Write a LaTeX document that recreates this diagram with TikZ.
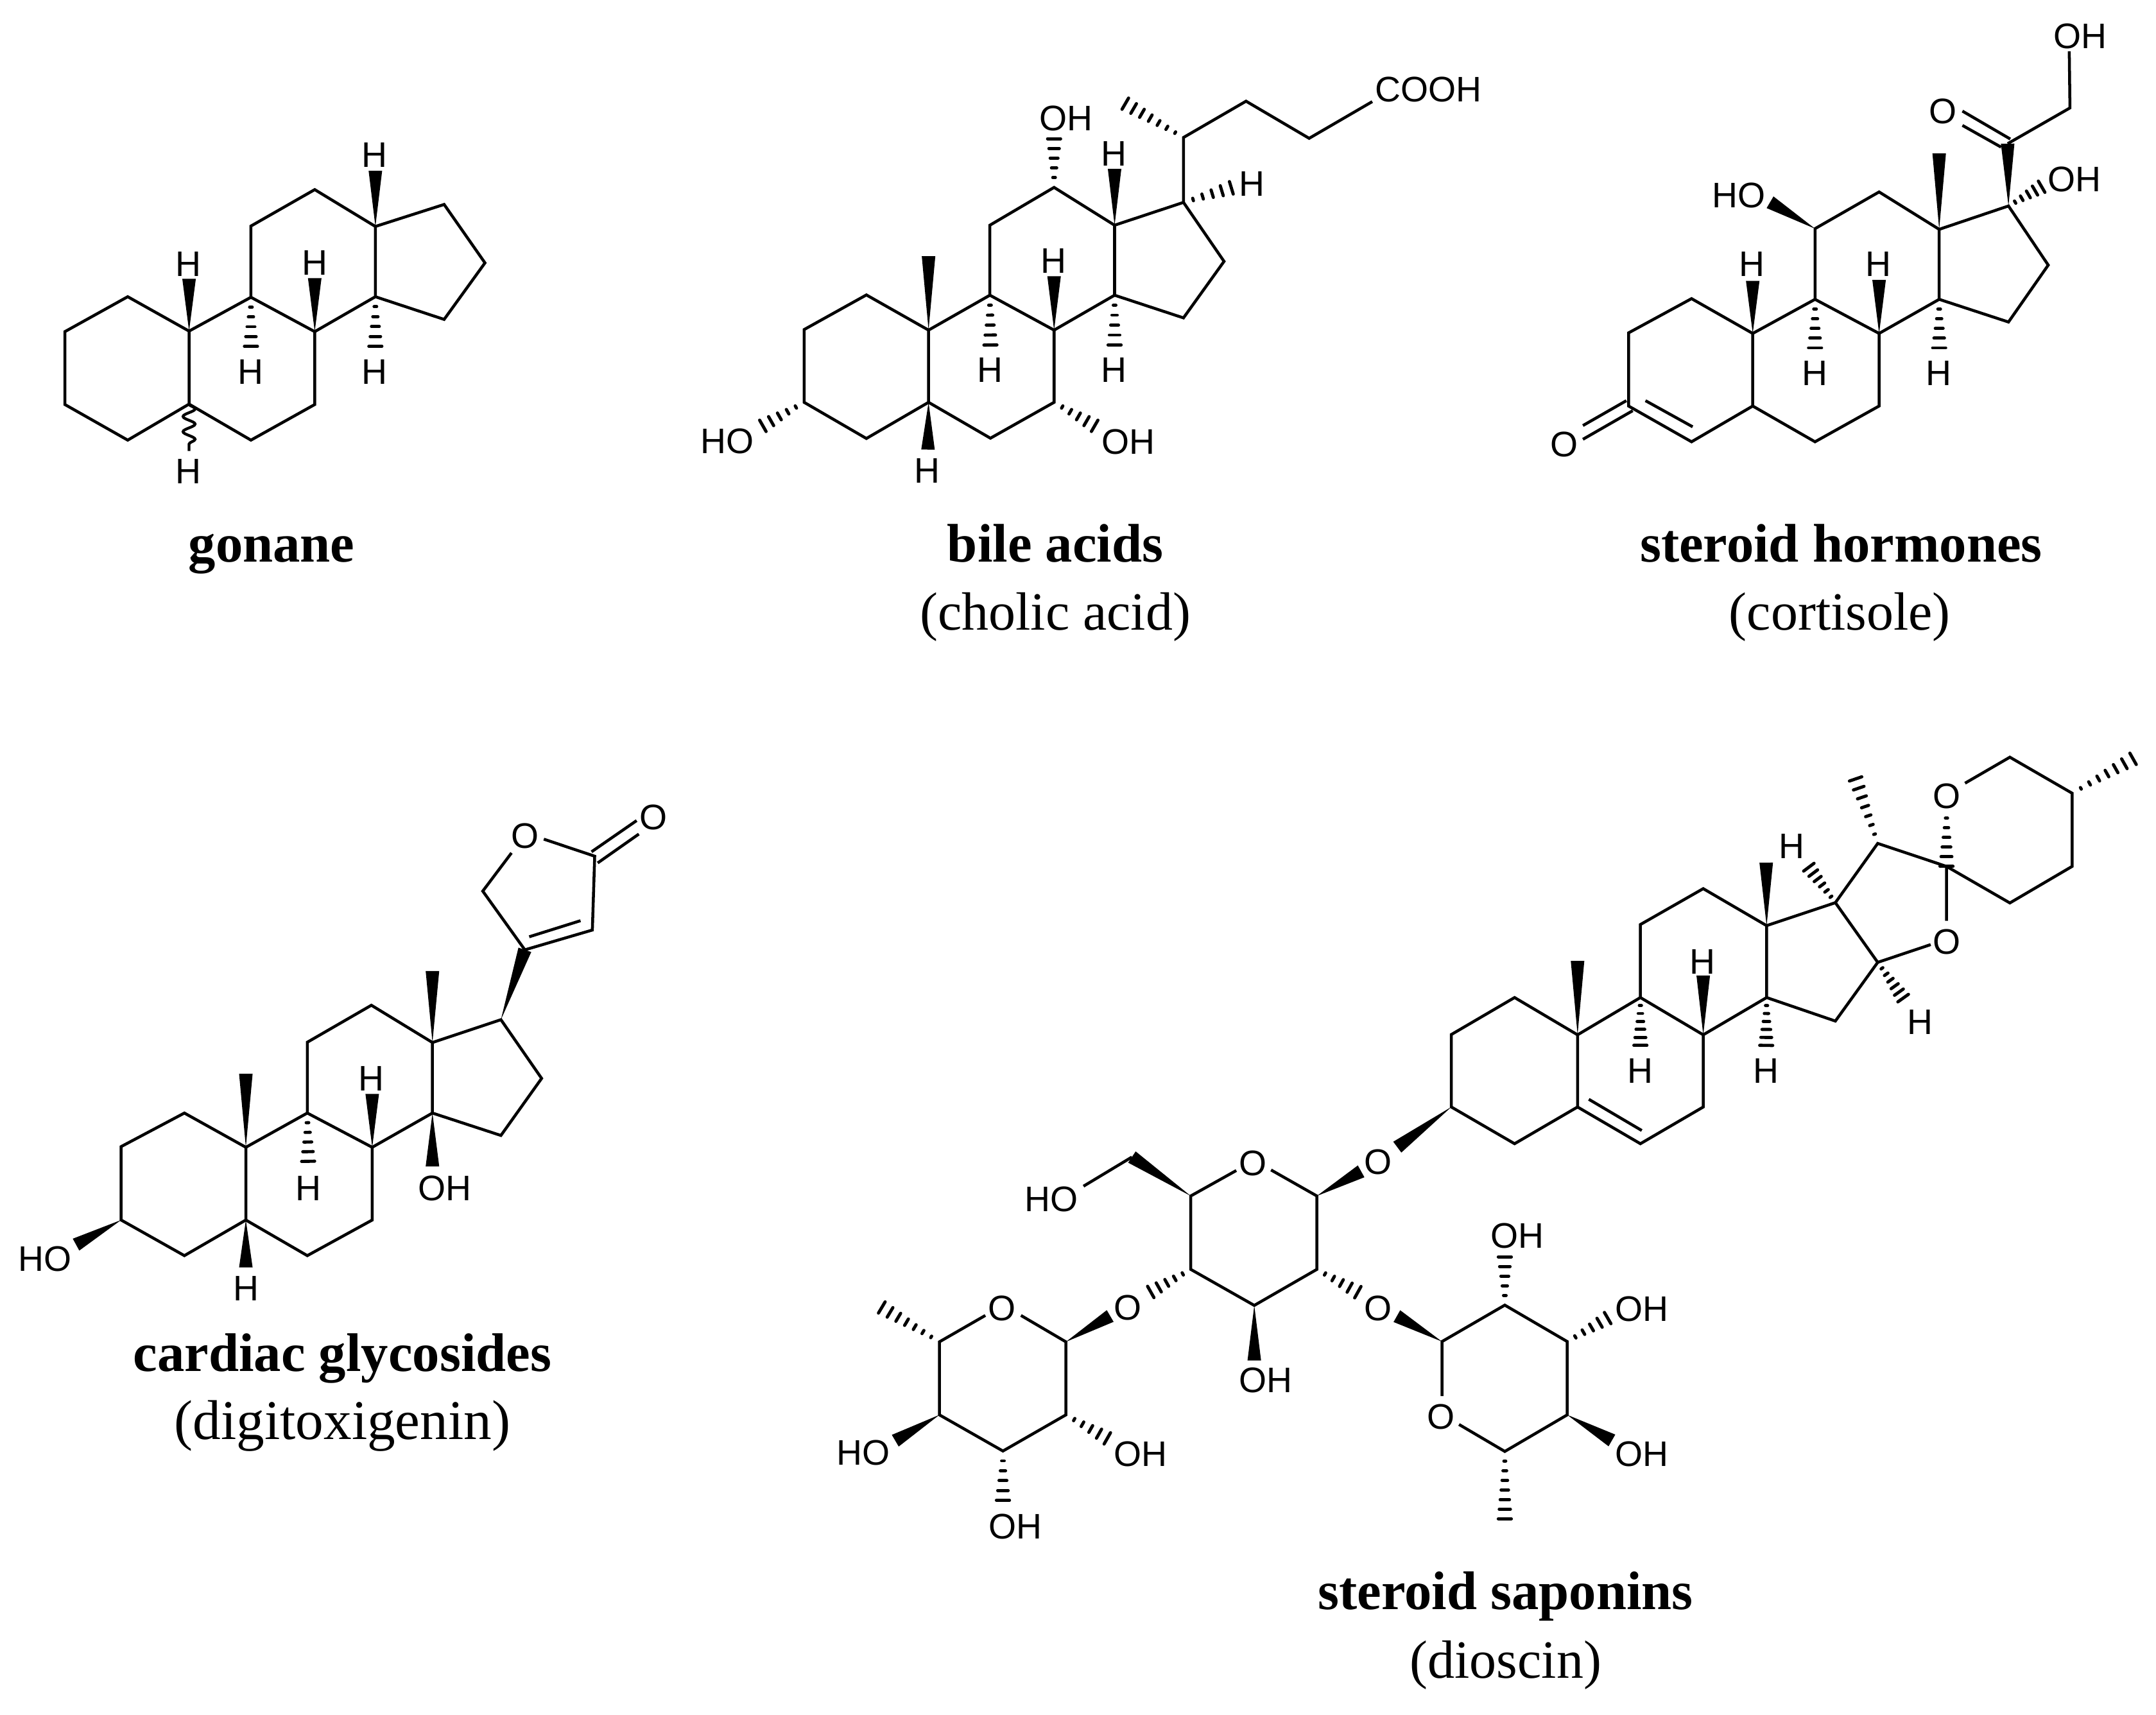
\documentclass[tikz,border=0pt]{standalone}
\usepackage{fontspec}
\setmainfont{Liberation Serif}
\setsansfont{Liberation Sans}
\usetikzlibrary{calc,decorations.pathmorphing}
\tikzset{
	atom/.style={font=\sffamily\fontsize{14.7}{17}\selectfont,inner sep=0pt},
	capbold/.style={font=\bfseries\fontsize{22.5}{26}\selectfont,inner sep=0pt,anchor=base},
	capplain/.style={font=\fontsize{22.3}{26}\selectfont,inner sep=0pt,anchor=base},
	hashline/.style={line width=1.3pt,line cap=round},
	wavy/.style={line width=1.15pt,decorate,decoration={snake,amplitude=2.5pt,segment length=6.3pt}}
}
\newcommand{\wedgebond}[2]{\fill (#1)--($(#2)!2.8pt!90:(#1)$)--($(#2)!2.8pt!-90:(#1)$)--cycle;}
\newcommand{\hashbond}[3]{\foreach \i in {1,...,#3}{
		\coordinate (hp) at ($(#1)!\i/#3!(#2)$);
		\draw[hashline] ($(hp)!\i/#3*2.7pt!90:(#1)$)--($(hp)!\i/#3*2.7pt!-90:(#1)$);}}
\begin{document}
\begin{tikzpicture}[x=0.02cm,y=-0.02cm,line width=1.2pt]
		\useasboundingbox (0,0) rectangle (1568,1247.3);
		% gonane
		\coordinate (g1) at (47.2,241.2); \coordinate (g2) at (92.9,215.8); \coordinate (g3) at (137.5,240.8);
		\coordinate (g4) at (137.5,293.9); \coordinate (g5) at (92.9,320.1); \coordinate (g6) at (47.2,294.2);
		\coordinate (g7) at (182.5,216.2); \coordinate (g8) at (228.9,241.2);%ring B
		\coordinate (g9) at (228.9,294.2); \coordinate (g10) at (182.5,320.1);
		\coordinate (g11) at (182.5,164.4); \coordinate (g12) at (228.9,137.9);%ring C
		\coordinate (g13) at (273,164.7); \coordinate (g14) at (273,215.8);
		\coordinate (g15) at (323,148.7); \coordinate (g16) at (352.7,191.2); \coordinate (g17) at (323,232.3);%ring D
		\coordinate (gw1) at (137.5,202.8); \coordinate (gw2) at (228.9,202.3); \coordinate (gw3) at (273,124.2);
		\coordinate (gh1) at (182.5,251.9); \coordinate (gh2) at (273,251.9); \coordinate (gs) at (137.5,328);
		\draw (g1)--(g2)--(g3)--(g4)--(g5)--(g6)--cycle;
		\draw (g3)--(g7)--(g8)--(g9)--(g10)--(g4);
		\draw (g7)--(g11)--(g12)--(g13)--(g14)--(g8);
		\draw (g13)--(g15)--(g16)--(g17)--(g14);
		\wedgebond{g3}{gw1} \wedgebond{g8}{gw2} \wedgebond{g13}{gw3}
		\hashbond{g7}{gh1}{5} \hashbond{g14}{gh2}{5}
		\draw[wavy] (g4)--(gs);
		\node[atom] (gH1) at (136.8,192) {H};
		\node[atom] (gH2) at (228.9,191.2) {H};
		\node[atom] (gH3) at (272.4,112.6) {H};
		\node[atom] (gH4) at (182.5,270.7) {H};
		\node[atom] (gH5) at (272.4,270.7) {H};
		\node[atom] (gH6) at (136.8,343) {H};
		\node[capbold] (gT) at (197.5,408.5) {gonane};
		
		% bile acids
		\coordinate (b1) at (584.8,239.7); \coordinate (b2) at (630.1,214.5); \coordinate (b3) at (675.3,240.1);
		\coordinate (b4) at (675.3,292.6); \coordinate (b5) at (630.1,318.9); \coordinate (b6) at (584.8,292.6);
		\coordinate (b7) at (719.9,214.7); \coordinate (b8) at (766.6,240.1);
		\coordinate (b9) at (766.6,292.6); \coordinate (b10) at (720.3,318.7);
		\coordinate (b11) at (719.9,163.8); \coordinate (b12) at (766.6,136.3);
		\coordinate (b13) at (810.6,163.8); \coordinate (b14) at (810.6,214.7);
		\coordinate (b15) at (860.7,147.2); \coordinate (b16) at (890.2,190.1); \coordinate (b17) at (860.7,231.2);
		\coordinate (b18) at (860.7,100); \coordinate (b19) at (906.2,73.6); \coordinate (b20) at (952.1,100.6);
		\coordinate (b21) at (998,73.9);%end at COOH
		\coordinate (bm) at (818.4,75.4);%methyl
		\coordinate (bw1) at (675.3,186.3); \coordinate (bw2) at (766.6,200.9); \coordinate (bw3) at (810.6,122.8); \coordinate (bw4) at (674.9,327);
		\coordinate (bh1) at (720.3,250.9); \coordinate (bh2) at (810.6,250.9); \coordinate (bh3) at (895.5,136.6);
		\coordinate (bh4) at (766.6,100.9); \coordinate (bh5) at (796.1,309.7); \coordinate (bh6) at (554.8,309.7);
		\draw (b1)--(b2)--(b3)--(b4)--(b5)--(b6)--cycle;
		\draw (b3)--(b7)--(b8)--(b9)--(b10)--(b4);
		\draw (b7)--(b11)--(b12)--(b13)--(b14)--(b8);
		\draw (b13)--(b15)--(b16)--(b17)--(b14);
		\draw (b15)--(b18)--(b19)--(b20)--(b21);
		\wedgebond{b3}{bw1} \wedgebond{b8}{bw2} \wedgebond{b13}{bw3} \wedgebond{b4}{bw4}
		\hashbond{b7}{bh1}{5} \hashbond{b14}{bh2}{5} \hashbond{b15}{bh3}{5}
		\hashbond{b12}{bh4}{5} \hashbond{b9}{bh5}{5} \hashbond{b6}{bh6}{5} \hashbond{b18}{bm}{7}
		\node[atom] (bH1) at (766.1,189.9) {H};
		\node[atom] (bH2) at (810.1,111.7) {H};
		\node[atom] (bH3) at (719.9,269.3) {H};
		\node[atom] (bH4) at (810.1,269.3) {H};
		\node[atom] (bH5) at (674.4,342.2) {H};
		\node[atom] (bH6) at (910.4,133.5) {H};
		\node[atom] (bOH1) at (775.4,85.9) {OH};
		\node[atom] (bOH2) at (820.6,321.4) {OH};
		\node[atom] (bOH3) at (528.9,321) {HO};
		\node[atom] (bA) at (1039,65) {COOH};
		\node[capbold] (bT) at (767.5,408.5) {bile acids};
		\node[capplain] (bS) at (767.5,458.2) {(cholic acid)};
		
		% steroid hormones
		\coordinate (c1) at (1184.4,242.1); \coordinate (c2) at (1230.2,217.2); \coordinate (c3) at (1274.7,242.5);
		\coordinate (c4) at (1274.7,295.3); \coordinate (c5) at (1230.2,321.3); \coordinate (c6) at (1184.4,295.3);
		\coordinate (c7) at (1320,217.7); \coordinate (c8) at (1366.6,242.5);
		\coordinate (c9) at (1366.6,295.3); \coordinate (c10) at (1320,321.3);
		\coordinate (c11) at (1320,166.3); \coordinate (c12) at (1366.6,139.6);
		\coordinate (c13) at (1410.3,166.8); \coordinate (c14) at (1410.3,217.7);
		\coordinate (c15) at (1460.7,149.8); \coordinate (c16) at (1489.6,192.8); \coordinate (c17) at (1460.7,234.2);
		\coordinate (c18) at (1460.1,104.5); \coordinate (c19) at (1505.4,78.5); \coordinate (c20) at (1504.9,37.3);
		\coordinate (cd1) at (1196.7,291.4); \coordinate (cd2) at (1231,310.4);%inner line of C=C
		\coordinate (cd3) at (1182.8,291.4); \coordinate (cd4) at (1151.2,309.5);
		\coordinate (cd5) at (1187.4,298.7); \coordinate (cd6) at (1151.2,319.5);
		\coordinate (cd7) at (1427.2,80.8); \coordinate (cd8) at (1462,101.1);
		\coordinate (cd9) at (1427.2,91.2); \coordinate (cd10) at (1455.3,107);
		\coordinate (cw1) at (1410.3,111.5); \coordinate (cw2) at (1287.3,147.1);
		\coordinate (cw3) at (1274.7,204.3); \coordinate (cw4) at (1366.6,203.6);
		\coordinate (ch1) at (1320,253); \coordinate (ch2) at (1410.3,253); \coordinate (ch3) at (1484.8,135.8);
		\draw (c1)--(c2)--(c3)--(c4)--(c5)--(c6)--cycle;
		\draw (c3)--(c7)--(c8)--(c9)--(c10)--(c4);
		\draw (c7)--(c11)--(c12)--(c13)--(c14)--(c8);
		\draw (c13)--(c15)--(c16)--(c17)--(c14);
		\draw (c18)--(c19)--(c20);
		\draw (cd1)--(cd2);
		\draw (cd3)--(cd4);
		\draw (cd5)--(cd6);
		\draw (cd7)--(cd8);
		\draw (cd9)--(cd10);
		\wedgebond{c15}{c18} \wedgebond{c13}{cw1} \wedgebond{c11}{cw2} \wedgebond{c3}{cw3} \wedgebond{c8}{cw4}
		\hashbond{c7}{ch1}{5} \hashbond{c14}{ch2}{5} \hashbond{c15}{ch3}{5}
		\node[atom] (cH1) at (1274.2,192.3) {H};
		\node[atom] (cH2) at (1366.1,192.3) {H};
		\node[atom] (cH3) at (1319.7,271.5) {H};
		\node[atom] (cH4) at (1409.8,271.5) {H};
		\node[atom] (cO1) at (1137.8,323.1) {O};
		\node[atom] (cO2) at (1413,81) {O};
		\node[atom] (cOH1) at (1264.5,141.9) {HO};
		\node[atom] (cOH2) at (1508.9,130.6) {OH};
		\node[atom] (cOH3) at (1513,26.5) {OH};
		\node[capbold] (cT) at (1339,408.5) {steroid hormones};
		\node[capplain] (cS) at (1338,458.2) {(cortisole)};
		
		% cardiac glycosides
		\coordinate (d1) at (88.1,833.9); \coordinate (d2) at (134.1,809.5); \coordinate (d3) at (178.8,834.4);
		\coordinate (d4) at (178.8,887.3); \coordinate (d5) at (134.1,913.2); \coordinate (d6) at (88.1,887.3);
		\coordinate (d7) at (223.5,809.5); \coordinate (d8) at (270.7,834.4);
		\coordinate (d9) at (270.7,887.3); \coordinate (d10) at (223.5,913.2);
		\coordinate (d11) at (223.5,758); \coordinate (d12) at (270.1,731.1);
		\coordinate (d13) at (314.5,758.2); \coordinate (d14) at (314.5,809.5);
		\coordinate (d15) at (364.3,741.6); \coordinate (d16) at (393.9,784.3); \coordinate (d17) at (364.3,825.8);
		\coordinate (d18) at (381.7,690.8); \coordinate (d19) at (351.1,648.1); \coordinate (d20) at (372,620.3);%lactone
		\coordinate (d21) at (395.5,610.3); \coordinate (d22) at (432.5,622.7); \coordinate (d23) at (430.8,676.4);
		\coordinate (dd1) at (384.9,681.3); \coordinate (dd2) at (422.2,669.6);
		\coordinate (dd3) at (430.2,619.5); \coordinate (dd4) at (463,596.8);
		\coordinate (dd5) at (434.7,627.6); \coordinate (dd6) at (464.6,606.6);
		\coordinate (dw1) at (314.5,706.2); \coordinate (dw2) at (178.8,780.9); \coordinate (dw3) at (270.7,795.6);
		\coordinate (dw4) at (314.5,848.3); \coordinate (dw5) at (178.8,921.8); \coordinate (dw6) at (55.3,905.2);
		\coordinate (dh1) at (224.1,844.6);
		\draw (d1)--(d2)--(d3)--(d4)--(d5)--(d6)--cycle;
		\draw (d3)--(d7)--(d8)--(d9)--(d10)--(d4);
		\draw (d7)--(d11)--(d12)--(d13)--(d14)--(d8);
		\draw (d13)--(d15)--(d16)--(d17)--(d14);
		\draw (d20)--(d19)--(d18)--(d23)--(d22)--(d21);
		\draw (dd1)--(dd2);
		\draw (dd3)--(dd4);
		\draw (dd5)--(dd6);
		\wedgebond{d15}{d18} \wedgebond{d13}{dw1} \wedgebond{d3}{dw2} \wedgebond{d8}{dw3}
		\wedgebond{d14}{dw4} \wedgebond{d4}{dw5} \wedgebond{d6}{dw6}
		\hashbond{d7}{dh1}{5}
		\node[atom] (dH1) at (270.1,784.3) {H};
		\node[atom] (dH2) at (224.1,864.2) {H};
		\node[atom] (dH3) at (178.8,936.9) {H};
		\node[atom] (dO1) at (382,607.8) {O};
		\node[atom] (dO2) at (475.2,594.6) {O};
		\node[atom] (dOH1) at (323.5,864.2) {OH};
		\node[atom] (dOH2) at (32.8,915.4) {HO};
		\node[capbold] (dT) at (249,997.5) {cardiac glycosides};
		\node[capplain,font=\fontsize{23.2}{26}\selectfont] (dS) at (249,1047) {(digitoxigenin)};
		
		% steroid saponins, steroid part
		\coordinate (s1) at (1055.5,752.4); \coordinate (s2) at (1101.5,725.5); \coordinate (s3) at (1147.3,752.6);
		\coordinate (s4) at (1147.3,805.1); \coordinate (s5) at (1101.5,831.8); \coordinate (s6) at (1055.5,805.1);
		\coordinate (s7) at (1193,725.5); \coordinate (s8) at (1238.7,752.6);
		\coordinate (s9) at (1238.7,805.1); \coordinate (s10) at (1193,831.8);
		\coordinate (s11) at (1193,672.4); \coordinate (s12) at (1238.7,646.3);
		\coordinate (s13) at (1284.8,673.2); \coordinate (s14) at (1284.8,725.5);
		\coordinate (s15) at (1334.8,656.5); \coordinate (s16) at (1365.6,699.9); \coordinate (s17) at (1334.8,742.6);
		\coordinate (s18) at (1365.6,613.4); \coordinate (s19) at (1415.6,630.1);%spiro
		\coordinate (s20) at (1415.6,669.7); \coordinate (s21) at (1404.1,687);
		\coordinate (s22) at (1415.6,588); \coordinate (s23) at (1429.1,569.6); \coordinate (s24) at (1461.7,550.7);
		\coordinate (s25) at (1507,576.9); \coordinate (s26) at (1507,630.1); \coordinate (s27) at (1461.7,656.7);
		\coordinate (sd1) at (1155.5,799.5); \coordinate (sd2) at (1194,822.2);
		\coordinate (sw1) at (1147.3,698.8); \coordinate (sw2) at (1284.5,627.4);
		\coordinate (sw3) at (1238.7,709.5); \coordinate (sw4) at (1016.2,834.3);
		\coordinate (sh1) at (1193,760.3); \coordinate (sh2) at (1284.5,760.3); \coordinate (sh3) at (1315.5,630.7);
		\coordinate (sh4) at (1384.1,725.9); \coordinate (sh5) at (1349.5,566.5); \coordinate (sh6) at (1551.3,551.9);
		\draw (s1)--(s2)--(s3)--(s4)--(s5)--(s6)--cycle;
		\draw (s3)--(s7)--(s8)--(s9)--(s10)--(s4);
		\draw (s7)--(s11)--(s12)--(s13)--(s14)--(s8);
		\draw (s13)--(s15)--(s16)--(s17)--(s14);
		\draw (s15)--(s18)--(s19)--(s20);
		\draw (s16)--(s21);
		\draw (s23)--(s24)--(s25)--(s26)--(s27)--(s19);
		\draw (sd1)--(sd2);
		\wedgebond{s3}{sw1} \wedgebond{s13}{sw2} \wedgebond{s8}{sw3} \wedgebond{s6}{sw4}
		\hashbond{s7}{sh1}{6} \hashbond{s14}{sh2}{6} \hashbond{s15}{sh3}{6} \hashbond{s16}{sh4}{6}
		\hashbond{s18}{sh5}{7} \hashbond{s25}{sh6}{7} \hashbond{s22}{s19}{6}
		\node[atom] (sH1) at (1238,699.5) {H};
		\node[atom] (sH2) at (1193,778.7) {H};
		\node[atom] (sH3) at (1284.5,778.7) {H};
		\node[atom] (sH4) at (1303,615.5) {H};
		\node[atom] (sH5) at (1396.6,743.2) {H};
		\node[atom] (sO1) at (1415.6,684.9) {O};
		\node[atom] (sO2) at (1415.6,579) {O};
		
		% central sugar
		\coordinate (u1) at (957.7,869.8); \coordinate (u2) at (957.7,923.2); \coordinate (u3) at (912.2,949.4);
		\coordinate (u4) at (866,923.2); \coordinate (u5) at (866,869.8);
		\coordinate (u6) at (924.4,850.9); \coordinate (u7) at (899.1,851.3);%ends at ring O
		\coordinate (u8) at (823.2,841.5); \coordinate (u9) at (788,862.7);
		\coordinate (uw1) at (989.9,851.9); \coordinate (uw2) at (912.2,989.4);
		\coordinate (uh1) at (836.9,939.6); \coordinate (uh2) at (987.5,939.8);
		\draw (u6)--(u1)--(u2)--(u3)--(u4)--(u5)--(u7);
		\draw (u8)--(u9);
		\wedgebond{u5}{u8} \wedgebond{u1}{uw1} \wedgebond{u3}{uw2}
		\hashbond{u4}{uh1}{5} \hashbond{u2}{uh2}{5}
		\node[atom] (uO1) at (911,846) {O};
		\node[atom] (uO2) at (1002.4,845.2) {O};
		\node[atom] (uO3) at (820.2,950.9) {O};
		\node[atom] (uO4) at (1002.4,951.5) {O};
		\node[atom] (uOH1) at (764.8,872.1) {HO};
		\node[atom] (uOH2) at (920.5,1004) {OH};
		
		% left sugar
		\coordinate (l1) at (775.2,975.9); \coordinate (l2) at (775.2,1029); \coordinate (l3) at (729.4,1055.3);
		\coordinate (l4) at (683.2,1029); \coordinate (l5) at (683.2,975.9);
		\coordinate (l6) at (742.5,956.7); \coordinate (l7) at (716.6,956.7);
		\coordinate (lw1) at (807.4,957.1); \coordinate (lw2) at (651.1,1047.8);
		\coordinate (lh1) at (641.3,950.9); \coordinate (lh2) at (805.3,1046.1); \coordinate (lh3) at (729.4,1091.1);
		\draw (l6)--(l1)--(l2)--(l3)--(l4)--(l5)--(l7);
		\wedgebond{l1}{lw1} \wedgebond{l4}{lw2}
		\hashbond{l5}{lh1}{7} \hashbond{l2}{lh2}{5} \hashbond{l3}{lh3}{5}
		\node[atom] (lO1) at (728.5,951.5) {O};
		\node[atom] (lOH1) at (627.9,1056.5) {HO};
		\node[atom] (lOH2) at (829.7,1057.6) {OH};
		\node[atom] (lOH3) at (738.3,1110.3) {OH};
		
		% right sugar
		\coordinate (r1) at (1048.7,975.7); \coordinate (r2) at (1094.4,949.2); \coordinate (r3) at (1139.8,975.7);
		\coordinate (r4) at (1139.8,1029); \coordinate (r5) at (1094.4,1055.6);
		\coordinate (r6) at (1048.7,1015.4); \coordinate (r7) at (1061.1,1036);
		\coordinate (rw1) at (1015.9,957.2); \coordinate (rw2) at (1172.3,1047.6);
		\coordinate (rh1) at (1094.4,914.1); \coordinate (rh2) at (1169.2,958.6); \coordinate (rh3) at (1094.4,1104.6);
		\draw (r6)--(r1)--(r2)--(r3)--(r4)--(r5)--(r7);
		\wedgebond{r1}{rw1} \wedgebond{r4}{rw2}
		\hashbond{r2}{rh1}{5} \hashbond{r3}{rh2}{5} \hashbond{r5}{rh3}{7}
		\node[atom] (rO1) at (1048.1,1030.3) {O};
		\node[atom] (rOH1) at (1103.4,898.8) {OH};
		\node[atom] (rOH2) at (1193.9,951.9) {OH};
		\node[atom] (rOH3) at (1193.9,1057.7) {OH};
		\node[capbold] (sT) at (1095,1170.5) {steroid saponins};
		\node[capplain] (sS) at (1095,1220.5) {(dioscin)};
		\end{tikzpicture}
\end{document}
